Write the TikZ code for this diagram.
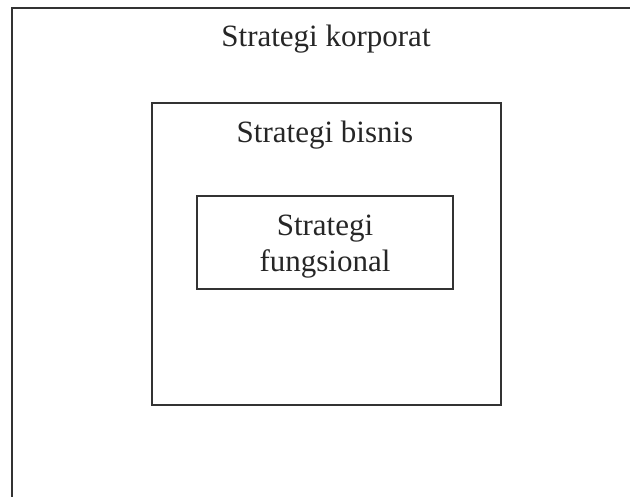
\documentclass[tikz,border=0pt]{standalone}
\usepackage{fontspec}
\setmainfont{Liberation Serif}
\usetikzlibrary{positioning}

\tikzset{
	box/.style = {draw=black!80, line width=1.6pt, inner sep=0pt, anchor=north west},
	txt/.style = {text=black!85, font=\fontsize{31}{36}\selectfont, align=center, anchor=base, inner sep=0pt}
}

\begin{document}
\begin{tikzpicture}[x=1pt, y=-1pt]
	\useasboundingbox (0,0) rectangle (630,496);
	\clip (0,0) rectangle (630,496);

	% Boxes
	\node[box, minimum width=640pt, minimum height=510pt] (korporat) at (11,7) {};
	\node[box, minimum width=349pt, minimum height=302pt] (bisnis) at (151,102) {};
	\node[box, minimum width=256pt, minimum height=93pt] (fungsional) at (196,195) {};

	% Labels
	\node[txt] (korporatText) at (326,46) {Strategi korporat};
	\node[txt] (bisnisText) at (325,142) {Strategi bisnis};
	\node[txt] (fungsionalText) at (325,271) {Strategi\\fungsional};
\end{tikzpicture}
\end{document}
